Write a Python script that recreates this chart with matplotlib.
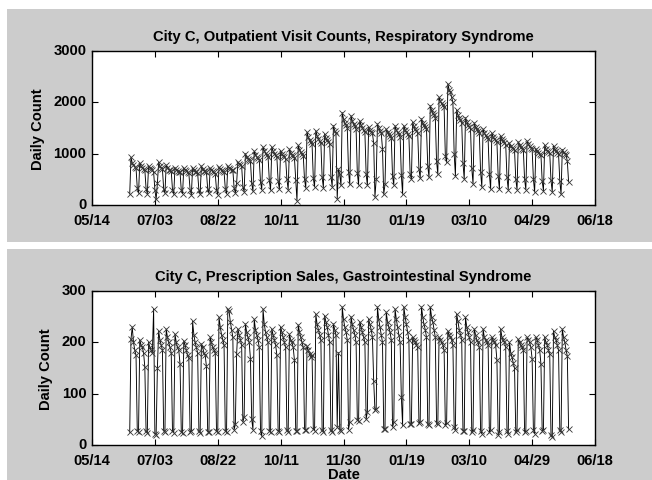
import matplotlib
matplotlib.use('Agg')
import matplotlib.pyplot as plt
import matplotlib.transforms as mtransforms
from matplotlib.patches import Rectangle
import pandas as pd

# ---------------- data (daily, weeks Sun..Sat) ----------------
start_date = '2004-06-13'

resp_weeks = [
    [215, 930, 820, 780, 740, 720, 330],
    [230, 820, 760, 720, 700, 690, 320],
    [220, 760, 720, 700, 680, 640, 300],
    [110, 420, 830, 760, 720, 700, 310],
    [230, 780, 720, 690, 680, 660, 300],
    [210, 730, 690, 670, 650, 640, 290],
    [220, 720, 680, 660, 650, 620, 300],
    [200, 720, 690, 650, 640, 620, 290],
    [210, 760, 700, 670, 660, 640, 310],
    [230, 720, 690, 660, 640, 610, 300],
    [200, 740, 700, 680, 660, 650, 320],
    [220, 760, 720, 700, 690, 680, 330],
    [240, 420, 840, 800, 780, 760, 350],
    [260, 1000, 940, 900, 880, 850, 420],
    [270, 1050, 980, 940, 920, 880, 450],
    [300, 1130, 1060, 1010, 980, 940, 480],
    [290, 1130, 1050, 1000, 970, 930, 470],
    [310, 1060, 1000, 960, 940, 900, 500],
    [300, 1090, 1020, 980, 950, 910, 490],
    [80, 1160, 1080, 1040, 1000, 960, 500],
    [330, 1420, 1320, 1260, 1220, 1180, 520],
    [350, 1450, 1350, 1290, 1250, 1200, 540],
    [340, 1380, 1300, 1260, 1230, 1190, 550],
    [360, 1545, 1450, 1400, 120, 700, 600],
    [380, 1800, 1680, 1600, 1560, 1500, 650],
    [400, 1740, 1640, 1580, 1540, 1480, 620],
    [390, 1640, 1560, 1500, 1470, 1420, 600],
    [380, 1520, 1460, 1420, 1400, 1200, 155],
    [500, 1580, 1500, 1450, 1400, 1100, 210],
    [400, 1480, 1420, 1380, 1350, 1300, 560],
    [390, 1545, 1460, 1420, 1380, 1330, 580],
    [210, 1545, 1470, 1420, 1390, 1340, 600],
    [500, 1610, 1530, 1480, 1450, 1400, 700],
    [520, 1680, 1600, 1560, 1520, 1480, 760],
    [540, 1935, 1850, 1800, 1760, 1700, 850],
    [600, 2100, 2020, 1980, 1950, 1900, 950],
    [830, 2360, 2250, 2200, 2100, 2000, 1000],
    [570, 1850, 1760, 1700, 1650, 1600, 820],
    [505, 1700, 1620, 1560, 1520, 1480, 720],
    [410, 1600, 1520, 1480, 1440, 1400, 650],
    [350, 1480, 1400, 1360, 1330, 1280, 600],
    [310, 1400, 1330, 1290, 1260, 1220, 560],
    [310, 1350, 1280, 1240, 1210, 1170, 540],
    [300, 1200, 1150, 1120, 1100, 1070, 500],
    [300, 1230, 1170, 1130, 1100, 1080, 500],
    [300, 1250, 1180, 1140, 1110, 1090, 510],
    [250, 1100, 1050, 1020, 1000, 980, 460],
    [280, 1160, 1100, 1060, 1040, 1010, 480],
    [260, 1150, 1090, 1050, 1020, 1000, 470],
    [210, 1080, 1030, 1000, 980, 850, 450],
]

gi_weeks = [
    [25, 206, 230, 200, 185, 175, 28],
    [26, 205, 195, 190, 180, 152, 27],
    [24, 200, 190, 185, 180, 265, 22],
    [20, 150, 222, 205, 195, 185, 28],
    [25, 226, 210, 200, 190, 180, 27],
    [24, 216, 200, 190, 185, 158, 26],
    [23, 203, 195, 185, 175, 170, 25],
    [27, 241, 215, 200, 190, 180, 28],
    [24, 197, 190, 180, 175, 153, 26],
    [25, 210, 200, 190, 185, 180, 27],
    [26, 249, 230, 215, 205, 195, 28],
    [25, 265, 261, 240, 225, 210, 30],
    [40, 177, 226, 215, 205, 195, 45],
    [55, 236, 220, 210, 200, 168, 50],
    [30, 245, 225, 215, 205, 190, 28],
    [17, 265, 235, 220, 210, 200, 27],
    [25, 226, 215, 205, 195, 176, 28],
    [26, 230, 220, 210, 200, 190, 30],
    [25, 216, 205, 200, 190, 165, 28],
    [27, 234, 220, 210, 200, 190, 30],
    [30, 193, 185, 177, 172, 175, 32],
    [28, 255, 235, 225, 215, 205, 30],
    [26, 252, 240, 230, 215, 200, 29],
    [25, 236, 225, 215, 35, 180, 30],
    [27, 269, 245, 230, 220, 205, 30],
    [45, 250, 235, 225, 215, 200, 48],
    [47, 240, 230, 220, 210, 200, 50],
    [65, 245, 235, 225, 210, 125, 68],
    [70, 269, 245, 230, 215, 200, 31],
    [31, 259, 240, 230, 220, 205, 35],
    [44, 265, 245, 230, 215, 200, 93],
    [38, 269, 250, 235, 220, 205, 40],
    [40, 210, 205, 200, 195, 190, 42],
    [45, 269, 250, 235, 225, 210, 40],
    [38, 269, 250, 240, 225, 210, 42],
    [40, 210, 205, 200, 195, 185, 38],
    [42, 222, 215, 210, 205, 195, 35],
    [30, 255, 241, 225, 215, 205, 28],
    [27, 249, 230, 220, 210, 200, 25],
    [30, 226, 215, 205, 200, 190, 28],
    [22, 226, 210, 205, 200, 195, 25],
    [30, 210, 205, 200, 195, 165, 20],
    [25, 226, 210, 205, 200, 190, 28],
    [22, 200, 180, 171, 160, 150, 25],
    [30, 206, 200, 195, 190, 185, 25],
    [27, 210, 205, 200, 190, 168, 30],
    [22, 210, 205, 195, 185, 158, 28],
    [30, 210, 200, 195, 185, 177, 20],
    [15, 222, 210, 205, 195, 185, 30],
    [25, 226, 210, 200, 185, 173, 31],
]

tick_start = '2004-05-14'
tick_labels = ['05/14', '07/03', '08/22', '10/11', '11/30', '01/19', '03/10', '04/29', '06/18']
titles = ['City C, Outpatient Visit Counts, Respiratory Syndrome',
          'City C, Prescription Sales, Gastrointestinal Syndrome']

resp = [v for w in resp_weeks for v in w]
gi = [v for w in gi_weeks for v in w]
dates = pd.date_range(start_date, periods=len(resp), freq='D')
tick_dates = pd.date_range(tick_start, periods=len(tick_labels), freq='50D')

# ---------------- figure ----------------
W, H = 652, 481
fig = plt.figure(figsize=(W / 100, H / 100), dpi=100)
fig.patch.set_facecolor('white')

def gray_rect(x0, y0, x1, y1):
    fig.patches.append(Rectangle((x0 / W, 1 - y1 / H), (x1 - x0) / W, (y1 - y0) / H,
                                 transform=fig.transFigure, facecolor='#cccccc',
                                 edgecolor='none', zorder=-10))

gray_rect(7, 10, W, 243)
gray_rect(7, 250, W, H)

FONT = 'Liberation Sans'
FS = 10.6
shift_up = mtransforms.ScaledTranslation(0, 0.025, fig.dpi_scale_trans)

def style(ax, ylim, yticks, title, values):
    ax.plot(dates, values, color='black', lw=0.65, marker='x', ms=4.5, mew=0.6,
            mec='#333333')
    ax.set_xlim(tick_dates[0], tick_dates[-1])
    ax.set_ylim(*ylim)
    ax.set_xticks(tick_dates)
    ax.set_xticklabels(tick_labels, fontfamily=FONT, fontweight='bold', fontsize=FS)
    ax.set_yticks(yticks)
    ax.set_yticklabels([str(t) for t in yticks], fontfamily=FONT, fontweight='bold',
                       fontsize=FS)
    ax.tick_params(direction='in', length=4, width=0.8, top=True, right=True)
    ax.tick_params(axis='x', pad=5.5)
    ax.tick_params(axis='y', pad=4)
    for lbl in ax.get_yticklabels():
        lbl.set_verticalalignment('center_baseline')
        lbl.set_transform(lbl.get_transform() + shift_up)
    for s in ax.spines.values():
        s.set_linewidth(1.0)
    ax.set_title(title, fontfamily=FONT, fontweight='bold', fontsize=FS, pad=8)
    ax.set_ylabel('Daily Count', fontfamily=FONT, fontweight='bold', fontsize=FS,
                  labelpad=6)
    ax.set_facecolor('white')

ax1 = fig.add_axes([92 / W, 1 - 206 / H, (595 - 92) / W, (206 - 52) / H])
style(ax1, (0, 3000), [0, 1000, 2000, 3000], titles[0], resp)

ax2 = fig.add_axes([92 / W, 1 - 446 / H, (595 - 92) / W, (446 - 292) / H])
style(ax2, (0, 300), [0, 100, 200, 300], titles[1], gi)
ax2.set_xlabel('Date', fontfamily=FONT, fontweight='bold', fontsize=FS, labelpad=0)

fig.savefig('out.png', dpi=100)
